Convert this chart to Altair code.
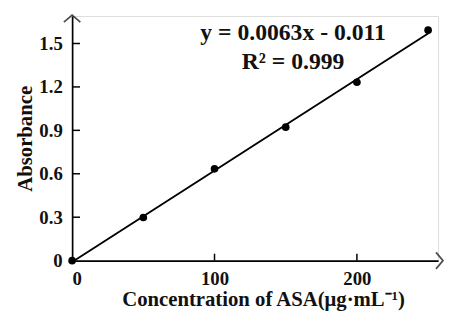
import altair as alt
import pandas as pd

conc = [0, 50, 100, 150, 200, 250]
absorb = [0.0, 0.298, 0.634, 0.922, 1.232, 1.592]
x_ticks = [0, 100, 200]
y_ticks = [0, 0.3, 0.6, 0.9, 1.2, 1.5]
equation = "y = 0.0063x - 0.011"
r2_text = "R\u00b2 = 0.999"

W, H = 371, 248
FONT = "Liberation Serif"

df = pd.DataFrame({"conc": conc, "abs": absorb})
xs = alt.Scale(domain=[0, 257], nice=False, zero=True)
ys = alt.Scale(domain=[0, 1.69], nice=False, zero=True)

base = alt.Chart(df)

line = base.transform_regression("conc", "abs", method="linear", extent=[0, 250]).mark_line(
    color="black", strokeWidth=1.9, clip=False
).encode(
    x=alt.X("conc:Q", scale=xs,
            axis=alt.Axis(values=x_ticks, ticks=False, grid=False, domainColor="black",
                          domainWidth=1.7, labelFont=FONT, labelFontSize=19, labelFontWeight="bold",
                          labelColor="#111", labelPadding=9,
                          title="Concentration of ASA(\u03bcg\u00b7mL\u207b\u00b9)", titleFont=FONT,
                          titleFontSize=21, titleFontWeight="bold", titleColor="#111", titlePadding=0,
                          titleX=W / 2 + 8)),
    y=alt.Y("abs:Q", scale=ys,
            axis=alt.Axis(values=y_ticks, ticks=False, grid=False, domainColor="black",
                          domainWidth=1.7, labelFont=FONT, labelFontSize=19, labelFontWeight="bold",
                          labelColor="#111", labelPadding=10,
                          labelExpr="datum.value == 0 ? '0' : format(datum.value, '.1f')",
                          title="Absorbance", titleFont=FONT, titleFontSize=21,
                          titleFontWeight="bold", titleColor="#111", titlePadding=3)),
)

points = base.mark_circle(color="black", size=60, opacity=1, clip=False).encode(
    x=alt.X("conc:Q", scale=xs), y=alt.Y("abs:Q", scale=ys)
)

xt = pd.DataFrame({"v": x_ticks[1:]})
yt = pd.DataFrame({"v": y_ticks[1:]})
xtick_marks = alt.Chart(xt).mark_rule(color="black", strokeWidth=1.5).encode(
    x=alt.X("v:Q", scale=xs), y=alt.value(H), y2=alt.value(H - 7)
)
ytick_marks = alt.Chart(yt).mark_rule(color="black", strokeWidth=1.5).encode(
    y=alt.Y("v:Q", scale=ys), x=alt.value(0), x2=alt.value(8)
)

arrow_up = alt.Chart(pd.DataFrame({"a": [0]})).mark_point(
    shape="M-1,0.85L0,0L1,0.85", filled=False, color="black", strokeWidth=1.7, size=280, clip=False
).encode(x=alt.value(0), y=alt.value(-1))
arrow_right = alt.Chart(pd.DataFrame({"a": [0]})).mark_point(
    shape="M-0.85,-1L0,0L-0.85,1", filled=False, color="black", strokeWidth=1.7, size=280, clip=False
).encode(x=alt.value(W + 5), y=alt.value(H))

eq = alt.Chart(pd.DataFrame({"t": [equation]})).mark_text(
    font=FONT, fontSize=24, fontWeight="bold", color="#111", align="center", baseline="alphabetic"
).encode(text="t:N", x=alt.value(224), y=alt.value(24))
r2 = alt.Chart(pd.DataFrame({"t": [r2_text]})).mark_text(
    font=FONT, fontSize=24, fontWeight="bold", color="#111", align="center", baseline="alphabetic"
).encode(text="t:N", x=alt.value(224), y=alt.value(54))

chart = alt.layer(line, points, xtick_marks, ytick_marks, arrow_up, arrow_right, eq, r2).properties(
    width=W, height=H,
    autosize=alt.AutoSizeParams(type="none"),
    padding={"left": 65, "top": 6, "right": 6, "bottom": 52},
).configure_view(stroke=None).configure(background="white")

chart.save("out.html", embed_options={"renderer": "svg", "actions": False})
